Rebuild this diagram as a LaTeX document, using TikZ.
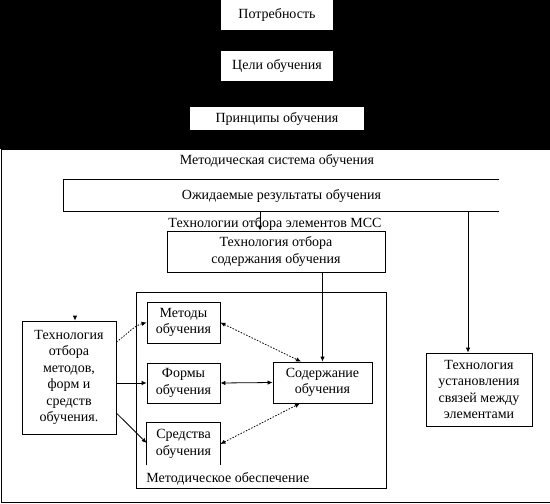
\documentclass[tikz,border=0pt]{standalone}
\usepackage{fontspec}
\setmainfont{Liberation Serif}
\usetikzlibrary{arrows.meta}

\tikzset{
  boks/.style={draw, inner sep=0pt, align=center},
  hvit/.style={fill=white, inner sep=0pt, align=center},
  tekst/.style={inner sep=0pt, align=center},
  pil/.style={-{Latex[length=5pt,width=4.5pt]}},
  dobbel/.style={{Latex[length=5pt,width=4.5pt]}-{Latex[length=5pt,width=4.5pt]}},
  prikk/.style={dash pattern=on 1.5pt off 1.5pt},
}

\begin{document}
\begin{tikzpicture}[x=1pt,y=-1pt,line width=0.8pt,font=\fontsize{14}{16.5}\selectfont]
  \useasboundingbox (0,0) rectangle (550,504);

  % svart felt øverst med tre hvite bokser
  \fill[black] (0,0) rectangle (550,149);
  \node[hvit, minimum width=112pt, minimum height=30pt] (potr) at (277,15) {Потребность};
  \node[hvit, minimum width=112pt, minimum height=30pt] (celi) at (277,66) {Цели обучения};
  \node[hvit, minimum width=174pt, minimum height=23pt] (princ) at (277,118.5) {Принципы обучения};
  \draw ([xshift=-6pt]celi.south) -- ([xshift=-6pt]princ.north);
  \draw ([xshift=-6pt]princ.south) -- ++(0,19);

  % ytre ramme: metodisk system
  \draw (560,149) -- (1,149) -- (1,502) -- (560,502);
  \node[tekst] (msys) at (277,161) {Методическая система обучения};

  % forventede resultater (åpen til høyre)
  \node[tekst, minimum width=435pt, minimum height=31pt] (ozh) at (281.5,195.5) {Ожидаемые результаты обучения};
  \draw (ozh.north east) -- (ozh.north west) -- (ozh.south west) -- (ozh.south east);

  \node[tekst] (tmss) at (275,224) {Технологии отбора элементов МСС};
  \node[boks, minimum width=218pt, minimum height=41pt] (tsod) at (276,251.5) {Технология отбора\\содержания обучения};
  \node[boks, minimum width=106pt, minimum height=73pt] (tsvyaz) at (479,389.5) {Технология\\установления\\связей между\\элементами};
  \node[boks, minimum width=94pt, minimum height=113pt] (tmet) at (69,377.5) {Технология\\отбора\\методов,\\форм и\\средств\\обучения.};

  % metodisk forsyning
  \node[draw, minimum width=250pt, minimum height=196pt] (obesp) at (261,390) {};
  \node[tekst, anchor=west] (obesptxt) at (146,479) {Методическое обеспечение};
  \node[boks, minimum width=73pt, minimum height=41pt] (metody) at (183.5,322.5) {Методы\\обучения};
  \node[boks, minimum width=73pt, minimum height=40pt] (formy) at (183.5,383) {Формы\\обучения};
  \node[tekst, minimum width=73pt, minimum height=42pt] (sredstva) at (183.5,444) {Средства\\обучения};
  \draw (sredstva.south west) -- (sredstva.north west) -- (sredstva.north east) -- (sredstva.south east);
  \node[boks, minimum width=99pt, minimum height=41pt] (soderzh) at (322.5,382.5) {Содержание\\обучения};

  % piler
  \draw[pil] ([xshift=-16pt]tsod.north |- ozh.south) -- ([xshift=-16pt]tsod.north);
  \draw[pil] (soderzh.north |- tsod.south) -- (soderzh.north);
  \draw[pil] ([xshift=-11pt]tsvyaz.north |- ozh.south) -- ([xshift=-11pt]tsvyaz.north);
  \draw[pil] ([xshift=6pt,yshift=5pt]tmet.north) -- ([xshift=6pt]tmet.north);

  \draw[pil, prikk] ([yshift=35.5pt]tmet.east) to[out=35, in=195] (metody.west);
  \draw[pil] (tmet.east |- formy.west) -- (formy.west);
  \draw[pil] ([yshift=-35.5pt]tmet.east) -- ([yshift=1pt]sredstva.west);

  \draw[dobbel, prikk] (metody.east) -- ([xshift=-21.5pt]soderzh.north);
  \draw[dobbel] (formy.east) -- (soderzh.west);
  \draw[dobbel, prikk] (sredstva.east) -- ([xshift=-22.5pt]soderzh.south);
\end{tikzpicture}
\end{document}
